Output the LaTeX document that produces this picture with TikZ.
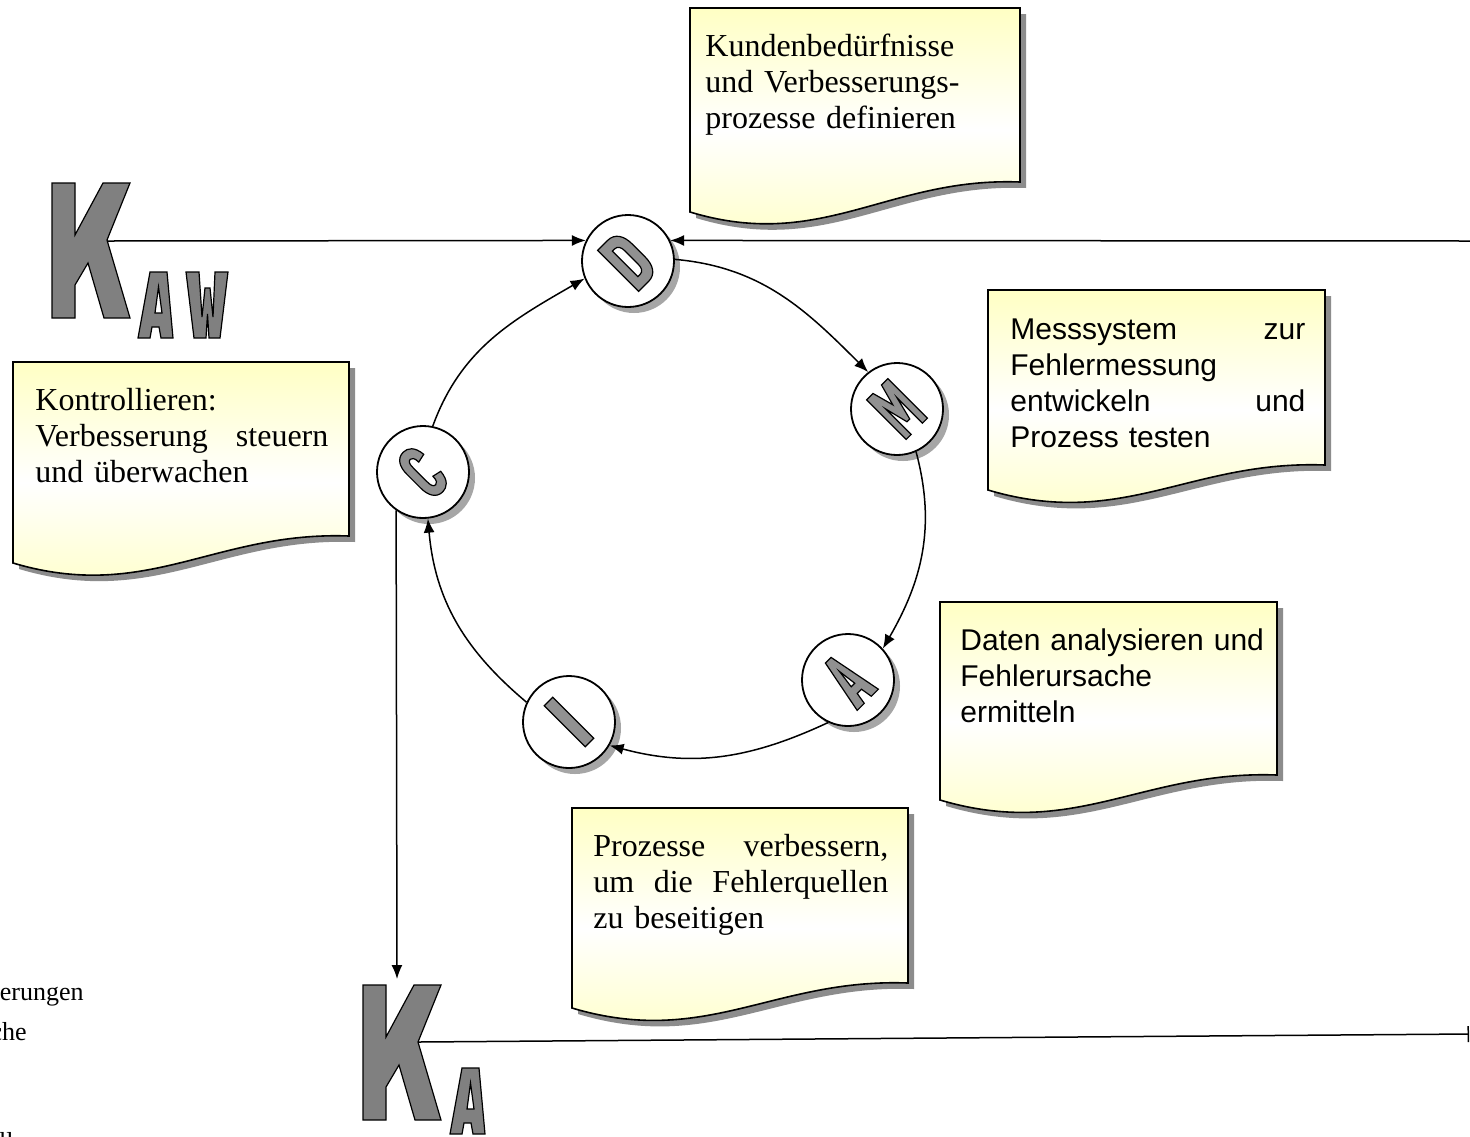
\documentclass[tikz,border=0pt]{standalone}
\usepackage{fontspec}
\setmainfont{Liberation Serif}
\newfontfamily\notesans{Liberation Sans}
\usetikzlibrary{arrows.meta,shadows}

\definecolor{notetop}{RGB}{255,255,196}
\definecolor{glyphgray}{RGB}{145,145,145}

\tikzset{
  conn/.style={line width=0.75pt, -{Latex[length=7pt,width=5.5pt]}},
  stagecircle/.style={circle, draw, line width=0.9pt, fill=white,
    minimum size=46pt, inner sep=0pt,
    drop shadow={shadow xshift=3pt, shadow yshift=-3pt, fill=black!35, opacity=1}},
  glyph/.style={fill=glyphgray, draw=black, line width=0.6pt, even odd rule},
  bigglyph/.style={fill=black!50, draw=black, line width=0.6pt, even odd rule},
  notetext/.style={anchor=base west, inner sep=0pt, align=left,
    font=\fontsize{16}{18}\selectfont},
  notetextsans/.style={anchor=base west, inner sep=0pt, align=left,
    font=\notesans\fontsize{15}{18}\selectfont},
  fragtext/.style={anchor=base east, inner sep=0pt, font=\fontsize{13}{15}\selectfont},
}

% note sheet with wavy lower edge: left, top, right, right bottom, left bottom
\newcommand\notesheet[5]{%
  \begin{scope}[shift={(6,6)}]
    \fill[black!45] (#1,#2) -- (#3,#2) -- (#3,#4)
      .. controls ({#1+0.6*(#3-#1)},{#4-5}) and ({#1+0.4*(#3-#1)},{#5+40}) .. (#1,#5) -- cycle;
  \end{scope}
  \shade[top color=notetop, bottom color=notetop, middle color=white]
    (#1,#2) -- (#3,#2) -- (#3,#4)
    .. controls ({#1+0.6*(#3-#1)},{#4-5}) and ({#1+0.4*(#3-#1)},{#5+40}) .. (#1,#5) -- cycle;
  \draw[line width=0.8pt]
    (#1,#2) -- (#3,#2) -- (#3,#4)
    .. controls ({#1+0.6*(#3-#1)},{#4-5}) and ({#1+0.4*(#3-#1)},{#5+40}) .. (#1,#5) -- cycle;
}

% outlined condensed letters, local units, upright, centred at origin
\newcommand\glyphD{\draw[glyph]
  (-14,-29) -- (-14,29) -- (0,29) .. controls (10,29) and (15,21) .. (15,9)
  -- (15,-9) .. controls (15,-21) and (10,-29) .. (0,-29) -- cycle
  (-4,-18) -- (-4,18) -- (-1,18) .. controls (3,18) and (5,15) .. (5,9)
  -- (5,-9) .. controls (5,-15) and (3,-18) .. (-1,-18) -- cycle;}
\newcommand\glyphM{\draw[glyph]
  (-15,-28) -- (-15,28) -- (-6,28) -- (0,6) -- (6,28) -- (15,28) -- (15,-28)
  -- (8,-28) -- (8,8) -- (2,-16) -- (-2,-16) -- (-8,8) -- (-8,-28) -- cycle;}
\newcommand\glyphA{\draw[glyph]
  (-15,-28) -- (-4,28) -- (4,28) -- (15,-28) -- (5,-28) -- (3,-16) -- (-3,-16)
  -- (-5,-28) -- cycle
  (-2.5,-7) -- (0,12) -- (2.5,-7) -- cycle;}
\newcommand\glyphI{\draw[glyph] (-6,-29) rectangle (6,29);}
\newcommand\glyphC{\draw[glyph]
  (13,12) .. controls (12,24) and (6,28) .. (0,28) .. controls (-9,28) and (-13,20) .. (-13,10)
  -- (-13,-10) .. controls (-13,-20) and (-9,-28) .. (0,-28) .. controls (6,-28) and (12,-24) .. (13,-12)
  -- (4,-10) .. controls (4,-16) and (2,-18) .. (0,-18) .. controls (-3,-18) and (-4,-15) .. (-4,-10)
  -- (-4,10) .. controls (-4,15) and (-3,18) .. (0,18) .. controls (2,18) and (4,16) .. (4,10) -- cycle;}

% big K with its arm junction, and the small A and W
\newcommand\bigK{\draw[bigglyph] (52,183) -- (75,183) -- (75,235) -- (103,183) -- (130,183)
  -- (107,240) -- (130,318) -- (104,318) -- (88,263) -- (75,285) -- (75,318) -- (52,318) -- cycle;}
\newcommand\smallA{\draw[bigglyph] (138,338) -- (150,272) -- (167,272) -- (173,338) -- (161,338)
  -- (159,327) -- (152,327) -- (150,338) -- cycle
  (155,313) -- (158.5,287) -- (162,313) -- cycle;}
\newcommand\smallW{\draw[bigglyph] (186,272) -- (199,272) -- (202,317) -- (205,288) -- (210,288)
  -- (213,317) -- (215,272) -- (228,272) -- (220,338) -- (209,338) -- (207.5,314) -- (206,338)
  -- (194,338) -- cycle;}

\begin{document}
\begin{tikzpicture}[x=0.5pt,y=-0.5pt]
\useasboundingbox (0,0) rectangle (1470,1136);
\clip (0,0) rectangle (1470,1136);
\fill[white] (0,0) rectangle (1470,1136);

% note sheets
\notesheet{690}{8}{1020}{182}{212}
\notesheet{988}{290}{1325}{465}{490}
\notesheet{940}{602}{1277}{775}{800}
\notesheet{572}{808}{908}{983}{1008}
\notesheet{13}{362}{349}{536}{563}

% K letters
\bigK \smallA \smallW
\begin{scope}[shift={(311,802)}] \bigK \end{scope}
\begin{scope}[shift={(312,796)}] \smallA \end{scope}

% cycle stages
\node[stagecircle] (D) at (628,261) {};
\node[stagecircle] (M) at (897,409) {};
\node[stagecircle] (A) at (848,680) {};
\node[stagecircle] (I) at (569,722) {};
\node[stagecircle] (C) at (423,472) {};

\begin{scope}[shift={(D.center)}, rotate=45, yscale=-1] \glyphD \end{scope}
\begin{scope}[shift={(M.center)}, rotate=45, yscale=-1] \glyphM \end{scope}
\begin{scope}[shift={(A.center)}, rotate=45, yscale=-1] \glyphA \end{scope}
\begin{scope}[shift={(I.center)}, rotate=45, yscale=-1] \glyphI \end{scope}
\begin{scope}[shift={(C.center)}, rotate=45, yscale=-1] \glyphC \end{scope}

% cycle connectors
\draw[conn] (D.2) to[out=-5,in=135] (M.128);
\draw[conn] (M.-66) to[out=-75,in=60] (A.42);
\draw[conn] (A.-115) to[out=-155,in=-15] (I.-30);
\draw[conn] (I.155) to[out=140,in=-85] (C.-84);
\draw[conn] (C.78) to[out=70,in=-150] (D.-158);

% lines to the K letters and the right border
\coordinate (kaw) at (107,241);
\coordinate (rimTop) at (1471,241);
\coordinate (kaTop) at (397,979);
\coordinate (ka) at (418,1042);
\coordinate (rimLow) at (1469,1034);
\draw[conn] (kaw) -- (D.154);
\draw[conn] (rimTop) -- (D.26);
\draw[conn] (C.235) -- (kaTop);
\draw[line width=0.75pt, -{Bar[width=8pt]}] (ka) -- (rimLow);

% note texts
\node[notetext, text width=170pt] (tDefine) at (705,56)
  {Kundenbedürfnisse\\und Verbesserungs-\\prozesse definieren};
\node[notetextsans, text width=147.5pt] (tMeasure) at (1010,339)
  {Messsystem\hfill zur\\Fehlermessung\\entwickeln\hfill und\\Prozess testen};
\node[notetextsans, text width=160pt] (tAnalyse) at (960,650)
  {Daten analysieren und\\Fehlerursache\\ermitteln};
\node[notetext, text width=147.5pt] (tImprove) at (593,856)
  {Prozesse\hfill verbessern,\\um\hfill die\hfill Fehlerquellen\\zu beseitigen};
\node[notetext, text width=146.5pt] (tControl) at (35,410)
  {Kontrollieren:\\Verbesserung\hfill steuern\\und überwachen};

% text cut by the left and lower border
\node[fragtext] (frag1) at (84,1000) {erungen};
\node[fragtext] (frag2) at (27,1040) {che};
\node[fragtext] (frag3) at (14,1150) {ll};
\end{tikzpicture}
\end{document}
